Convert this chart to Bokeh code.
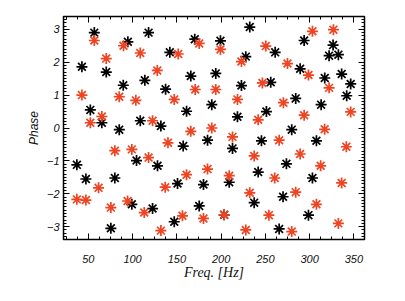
from bokeh.plotting import figure
from bokeh.models import LinearAxis, Range1d, SingleIntervalTicker, CustomLabelingPolicy
from bokeh.embed import file_html
from bokeh.resources import INLINE

black_freq = [56.8, 118.1, 94.7, 42.8, 70.3, 89.5, 113.9, 137.3, 52.3, 65.3,
              108.7, 132.0, 85.0, 232.4, 170.3, 199.3, 142.1, 227.9, 165.8, 194.0,
              223.0, 189.5, 161.0, 218.5, 251.2, 293.8, 326.5, 322.0, 332.5, 261.1,
              289.3, 256.1, 317.1, 336.2, 346.4, 341.9, 284.3, 313.0, 279.8, 37.1,
              47.3, 80.0, 104.5, 128.2, 99.2, 122.6, 75.5, 157.2, 184.7, 212.9,
              245.6, 150.8, 180.1, 209.2, 241.9, 237.4, 175.3, 147.1, 203.5, 307.7,
              273.8, 303.2, 270.0, 298.7, 265.6]
black_phase = [2.90, 2.90, 2.62, 1.86, 1.70, 1.30, 1.45, 1.18, 0.55, 0.16,
               0.22, 0.06, -0.05, 3.07, 2.70, 2.65, 2.30, 2.17, 1.58, 1.66,
               1.29, 0.71, 0.51, 0.34, 0.50, 2.66, 2.52, 2.20, 2.23, 2.30,
               1.80, 1.39, 1.52, 1.64, 1.34, 0.98, 0.90, 0.71, -0.05, -1.12,
               -1.55, -1.52, -0.99, -1.15, -2.32, -2.45, -3.05, -0.55, -0.37, -0.62,
               -0.39, -1.69, -1.72, -1.65, -1.34, -2.27, -2.37, -2.85, -2.64, -0.39,
               -1.09, -1.52, -2.09, -2.65, -3.07]

red_freq = [56.8, 89.8, 108.7, 70.3, 127.9, 42.8, 85.0, 103.7, 65.3, 52.3,
            122.6, 175.3, 199.3, 151.6, 223.0, 250.5, 170.8, 194.0, 147.1, 218.5,
            246.7, 241.9, 165.8, 189.5, 303.2, 326.9, 275.0, 298.7, 322.0, 270.4,
            293.8, 346.4, 317.0, 80.0, 99.2, 118.1, 140.0, 37.1, 47.3, 61.6,
            75.5, 94.4, 113.2, 136.9, 132.0, 212.9, 237.4, 161.0, 184.7, 209.2,
            232.4, 156.4, 180.1, 203.5, 227.9, 254.0, 265.6, 341.5, 289.3, 312.5,
            260.6, 336.2, 284.3, 307.7, 279.8, 332.5]
red_phase = [2.66, 2.50, 2.28, 2.11, 1.75, 1.00, 0.95, 0.84, 0.35, 0.16,
             0.22, 2.57, 2.39, 2.25, 2.02, 2.49, 1.17, 1.17, 0.87, 0.87,
             1.37, 0.25, -0.10, 0.00, 2.94, 2.99, 1.96, 1.61, 1.22, 0.77,
             0.39, 0.49, -0.04, -0.69, -0.65, -0.90, -0.45, -2.17, -2.19, -1.82,
             -2.42, -2.22, -2.57, -1.80, -3.12, -0.27, -0.85, -1.42, -1.25, -1.45,
             -1.97, -2.67, -2.75, -2.64, -3.10, -2.65, -0.37, -0.57, -0.79, -1.15,
             -1.52, -1.67, -1.95, -2.32, -3.15, -2.90]

x_label = "Freq. [Hz]"
y_label = "Phase"

p = figure(width=390, height=285, output_backend="svg", toolbar_location=None,
           x_range=Range1d(22, 362), y_range=Range1d(-3.39, 3.39),
           min_border_left=63, min_border_right=26,
           min_border_top=14, min_border_bottom=46)
p.xgrid.visible = False
p.ygrid.visible = False
p.outline_line_color = "black"
p.outline_line_width = 1.5
p.background_fill_color = "white"
p.border_fill_color = "white"

tick_font = "Liberation Sans"

hide_policy = CustomLabelingPolicy(code="""
try { indices.clear(); } catch (e) {
  for (let i = 0; i < indices.size; i++) { indices.unset(i); }
}
return indices;
""")


def style(ax):
    ax.axis_line_color = "black"
    ax.major_tick_line_color = "black"
    ax.minor_tick_line_color = "black"
    ax.major_tick_in = 6
    ax.major_tick_out = 0
    ax.minor_tick_in = 3
    ax.minor_tick_out = 0
    ax.major_label_text_font = tick_font
    ax.major_label_text_font_style = "italic"
    ax.major_label_text_color = "#111111"
    ax.major_label_text_font_size = "11px"


p.xaxis.ticker = SingleIntervalTicker(interval=50, num_minor_ticks=4)
p.yaxis.ticker = SingleIntervalTicker(interval=1, num_minor_ticks=10)
for ax in p.xaxis + p.yaxis:
    style(ax)
p.xaxis.major_label_standoff = 15
p.yaxis.major_label_standoff = 4
p.xaxis.axis_label = x_label
p.xaxis.axis_label_text_font = "Liberation Serif"
p.xaxis.axis_label_text_font_style = "italic"
p.xaxis.axis_label_text_font_size = "14px"
p.xaxis.axis_label_text_color = "#111111"
p.xaxis.axis_label_standoff = -1
p.yaxis.axis_label = y_label
p.yaxis.axis_label_text_font = "Liberation Sans"
p.yaxis.axis_label_text_font_style = "italic"
p.yaxis.axis_label_text_font_size = "12px"
p.yaxis.axis_label_text_color = "#111111"
p.yaxis.axis_label_standoff = 3

top = LinearAxis(ticker=SingleIntervalTicker(interval=50, num_minor_ticks=4),
                 major_label_policy=hide_policy)
right = LinearAxis(ticker=SingleIntervalTicker(interval=1, num_minor_ticks=10),
                   major_label_policy=hide_policy)
style(top)
style(right)
p.add_layout(top, "above")
p.add_layout(right, "right")

p.scatter(black_freq, black_phase, marker="asterisk", size=11,
          line_color="black", line_width=1.7)
p.scatter(red_freq, red_phase, marker="asterisk", size=11,
          line_color="#ee4422", line_width=1.7)

open("out.html", "w").write(file_html(p, INLINE))
